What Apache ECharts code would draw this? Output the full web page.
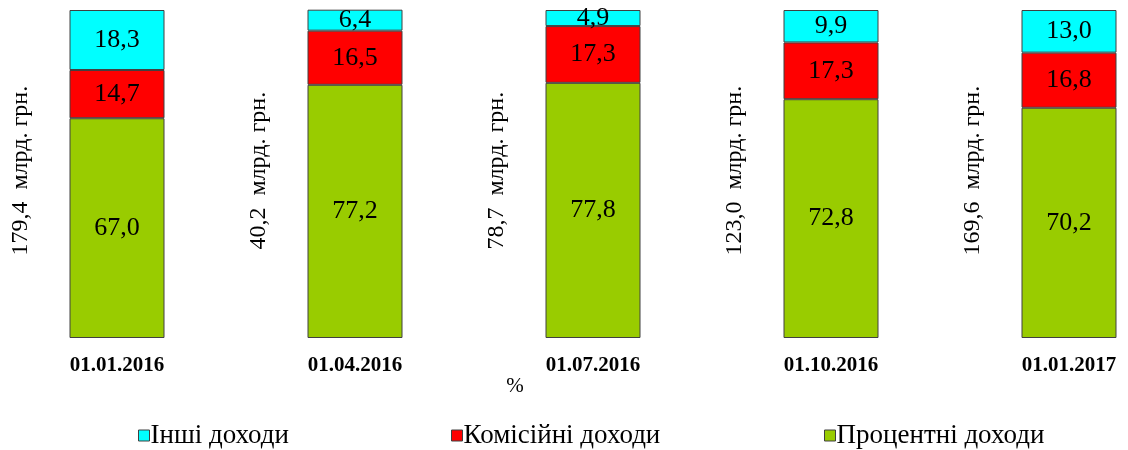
<!DOCTYPE html>
<html>
<head>
<meta charset="utf-8">
<script src="https://cdn.jsdelivr.net/npm/echarts@6/dist/echarts.min.js"></script>
<style>html,body{margin:0;padding:0;background:#fff}#c{width:1128px;height:450px}</style>
</head>
<body>
<div id="c"></div>
<script>
const categories = ['01.01.2016', '01.04.2016', '01.07.2016', '01.10.2016', '01.01.2017'];
const otherIncome = [18.3, 6.4, 4.9, 9.9, 13.0];
const commissionIncome = [14.7, 16.5, 17.3, 17.3, 16.8];
const interestIncome = [67.0, 77.2, 77.8, 72.8, 70.2];
const totals = ['179,4', '40,2', '78,7', '123,0', '169,6'];
const seriesNames = ['Інші доходи', 'Комісійні доходи', 'Процентні доходи'];
const unitText = 'млрд. грн.';
const axisUnit = '%';

const FONT = '"Liberation Serif", "Times New Roman", serif';
const fmt = v => v.toFixed(1).replace('.', ',');

const chart = echarts.init(document.getElementById('c'), null, {renderer: 'canvas'});

function barSeries(name, data, color) {
  return {
    name: name,
    type: 'bar',
    stack: 'total',
    barWidth: 95,
    clip: false,
    data: data,
    itemStyle: {color: color, borderColor: '#404040', borderWidth: 1},
    label: {
      show: true,
      position: 'inside',
      color: '#000',
      fontFamily: FONT,
      fontSize: 26,
      formatter: p => fmt(p.value)
    },
    emphasis: {disabled: true}
  };
}

const legendBase = {
  top: 422,
  padding: 0,
  itemWidth: 11,
  itemHeight: 11,
  itemGap: 4,
  icon: 'rect',
  itemStyle: {borderColor: '#404040', borderWidth: 1},
  textStyle: {fontFamily: FONT, fontSize: 27, color: '#000', padding: [0, 0, 0, -4]}
};

chart.setOption({
  animation: false,
  backgroundColor: '#fff',
  grid: {left: 117, right: 59, top: 10, bottom: 112, containLabel: false},
  xAxis: {
    type: 'category',
    data: categories,
    boundaryGap: false,
    axisLine: {show: false},
    axisTick: {show: false},
    splitLine: {show: false},
    axisLabel: {
      margin: 17,
      fontFamily: FONT,
      fontWeight: 'bold',
      fontSize: 21,
      color: '#000'
    }
  },
  yAxis: {
    type: 'value',
    min: 0,
    max: 100,
    show: false,
    splitLine: {show: false}
  },
  legend: [
    Object.assign({}, legendBase, {left: 138, data: [seriesNames[0]]}),
    Object.assign({}, legendBase, {left: 451, data: [seriesNames[1]]}),
    Object.assign({}, legendBase, {left: 824, data: [seriesNames[2]]})
  ],
  series: [
    barSeries(seriesNames[2], interestIncome, '#99CC00'),
    barSeries(seriesNames[1], commissionIncome, '#FF0000'),
    barSeries(seriesNames[0], otherIncome, '#00FFFF')
  ]
});

// Rotated total labels positioned relative to each bar via the axis scale
const graphics = [];
const midY = chart.convertToPixel({yAxisIndex: 0}, 51);
categories.forEach((c, i) => {
  const cx = chart.convertToPixel({xAxisIndex: 0}, i);
  graphics.push({
    type: 'text',
    x: cx - 96,
    y: midY,
    rotation: Math.PI / 2,
    style: {
      text: totals[i] + '  ' + unitText,
      align: 'center',
      verticalAlign: 'middle',
      font: '24px ' + FONT,
      fill: '#000'
    }
  });
});
graphics.push({
  type: 'text',
  x: 515,
  y: 386,
  style: {
    text: axisUnit,
    align: 'center',
    verticalAlign: 'middle',
    font: '21px ' + FONT,
    fill: '#000'
  }
});
chart.setOption({graphic: graphics});
</script>
</body>
</html>
